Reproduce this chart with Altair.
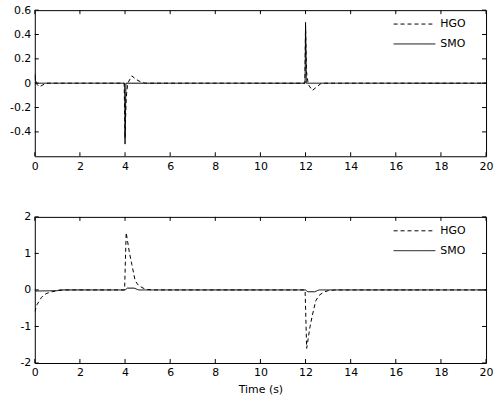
import altair as alt
import pandas as pd

# ---- values ----
time_ticks = [0, 2, 4, 6, 8, 10, 12, 14, 16, 18, 20]

# upper panel
top_y_ticks = [-0.4, -0.2, 0, 0.2, 0.4, 0.6]
top_hgo_t = [0, 0.05, 0.2, 0.5, 3.96, 4.0, 4.05, 4.12, 4.3, 4.5, 4.7, 4.9,
             11.97, 12.0, 12.04, 12.12, 12.3, 12.5, 12.7, 20]
top_hgo_v = [0.06, 0.0, -0.03, 0.0, 0.0, -0.45, -0.12, 0.0, 0.06, 0.03, 0.01, 0.0,
             0.0, 0.47, 0.1, -0.01, -0.06, -0.03, 0.0, 0.0]
top_smo_t = [0, 0.03, 0.1, 3.98, 4.0, 4.04, 11.98, 12.0, 12.04, 20]
top_smo_v = [0.08, 0.02, 0.0, 0.0, -0.5, 0.0, 0.0, 0.5, 0.0, 0.0]

# lower panel
bot_y_ticks = [-2, -1, 0, 1, 2]
bot_hgo_t = [0, 0.1, 0.3, 0.5, 0.75, 1.0, 1.3, 3.98, 4.05, 4.2, 4.3, 4.45, 4.6, 4.8, 5.0, 5.3,
             11.98, 12.05, 12.2, 12.3, 12.45, 12.6, 12.8, 13.0, 13.3, 20]
bot_hgo_v = [-0.6, -0.4, -0.2, -0.1, -0.05, -0.02, 0.0, 0.0, 1.57, 1.0, 0.7, 0.25, 0.12, 0.05, 0.01, 0.0,
             0.0, -1.6, -1.0, -0.7, -0.3, -0.15, -0.06, -0.02, 0.0, 0.0]
bot_smo_t = [0, 0.05, 1.0, 1.1, 4.0, 4.1, 4.4, 4.6, 12.0, 12.1, 12.4, 12.6, 20]
bot_smo_v = [0.0, -0.03, -0.02, 0.0, 0.0, 0.05, 0.05, 0.0, 0.0, -0.05, -0.05, 0.0, 0.0]

series_names = ["HGO", "SMO"]
series_dash = [[4, 3], [1, 0]]

# ---- layout / style ----
W, H = 454, 147
FONT = "DejaVu Sans"
FS = 11
TICK = 4


def panel(hgo_t, hgo_v, smo_t, smo_v, y_dom, y_ticks, x_title):
    df = pd.concat([
        pd.DataFrame({"t": hgo_t, "v": hgo_v, "series": "HGO"}),
        pd.DataFrame({"t": smo_t, "v": smo_v, "series": "SMO"}),
    ], ignore_index=True)

    xs = alt.Scale(domain=[0, 20], nice=False, zero=False)
    ys = alt.Scale(domain=y_dom, nice=False, zero=False)

    x_axis = alt.Axis(values=time_ticks, tickSize=0, domain=False, grid=False,
                      labelFont=FONT, labelFontSize=FS, labelColor="black",
                      labelPadding=4, labelFlush=False, labelOverlap=False,
                      title=x_title if x_title else "", titleFont=FONT, titleFontSize=FS,
                      titleFontWeight="normal", titleColor="black", titlePadding=6)
    y_axis = alt.Axis(values=y_ticks, tickSize=0, domain=False, grid=False,
                      labelFont=FONT, labelFontSize=FS, labelColor="black",
                      labelPadding=4, labelFlush=False, labelOverlap=False,
                      labelExpr="'' + datum.value", title="")

    lines = alt.Chart(df).mark_line(color="black", strokeWidth=1, clip=True).encode(
        x=alt.X("t:Q", scale=xs, axis=x_axis),
        y=alt.Y("v:Q", scale=ys, axis=y_axis),
        strokeDash=alt.StrokeDash("series:N",
                                  scale=alt.Scale(domain=series_names, range=series_dash),
                                  legend=None),
        order=alt.Order("t:Q"),
    )

    # inward tick marks on all four sides
    xt = pd.DataFrame({"t": time_ticks})
    yt = pd.DataFrame({"v": y_ticks})
    tick_style = dict(color="black", strokeWidth=1)
    xb = alt.Chart(xt).mark_rule(**tick_style).encode(
        x=alt.X("t:Q", scale=xs, axis=x_axis), y=alt.value(H), y2=alt.value(H - TICK))
    xtop = alt.Chart(xt).mark_rule(**tick_style).encode(
        x=alt.X("t:Q", scale=xs, axis=x_axis), y=alt.value(0), y2=alt.value(TICK))
    yl = alt.Chart(yt).mark_rule(**tick_style).encode(
        y=alt.Y("v:Q", scale=ys, axis=y_axis), x=alt.value(0), x2=alt.value(TICK))
    yr = alt.Chart(yt).mark_rule(**tick_style).encode(
        y=alt.Y("v:Q", scale=ys, axis=y_axis), x=alt.value(W), x2=alt.value(W - TICK))

    # legend in the upper right corner
    leg = []
    for i, (name, dash) in enumerate(zip(series_names, series_dash)):
        ypix = 14 + 20 * i
        src = pd.DataFrame({"series": [name]})
        leg.append(alt.Chart(src).mark_rule(color="black", strokeWidth=1, strokeDash=dash).encode(
            x=alt.value(W - 93), x2=alt.value(W - 51), y=alt.value(ypix)))
        leg.append(alt.Chart(src).mark_text(font=FONT, fontSize=FS, color="black",
                                            align="left", baseline="middle").encode(
            x=alt.value(W - 46), y=alt.value(ypix), text="series:N"))

    return alt.layer(lines, xb, xtop, yl, yr, *leg).properties(width=W, height=H)


top = panel(top_hgo_t, top_hgo_v, top_smo_t, top_smo_v, [-0.6, 0.6], top_y_ticks, None)
bottom = panel(bot_hgo_t, bot_hgo_v, bot_smo_t, bot_smo_v, [-2, 2], bot_y_ticks, "Time (s)")

chart = alt.vconcat(top, bottom, spacing=38).properties(
    padding={"left": 9, "top": 2, "right": 0, "bottom": 0},
    background="white",
).configure_view(stroke="black", strokeWidth=1).configure_axis(labelOverlap=False)

chart.save("out.html", embed_options={"renderer": "svg", "actions": False})
